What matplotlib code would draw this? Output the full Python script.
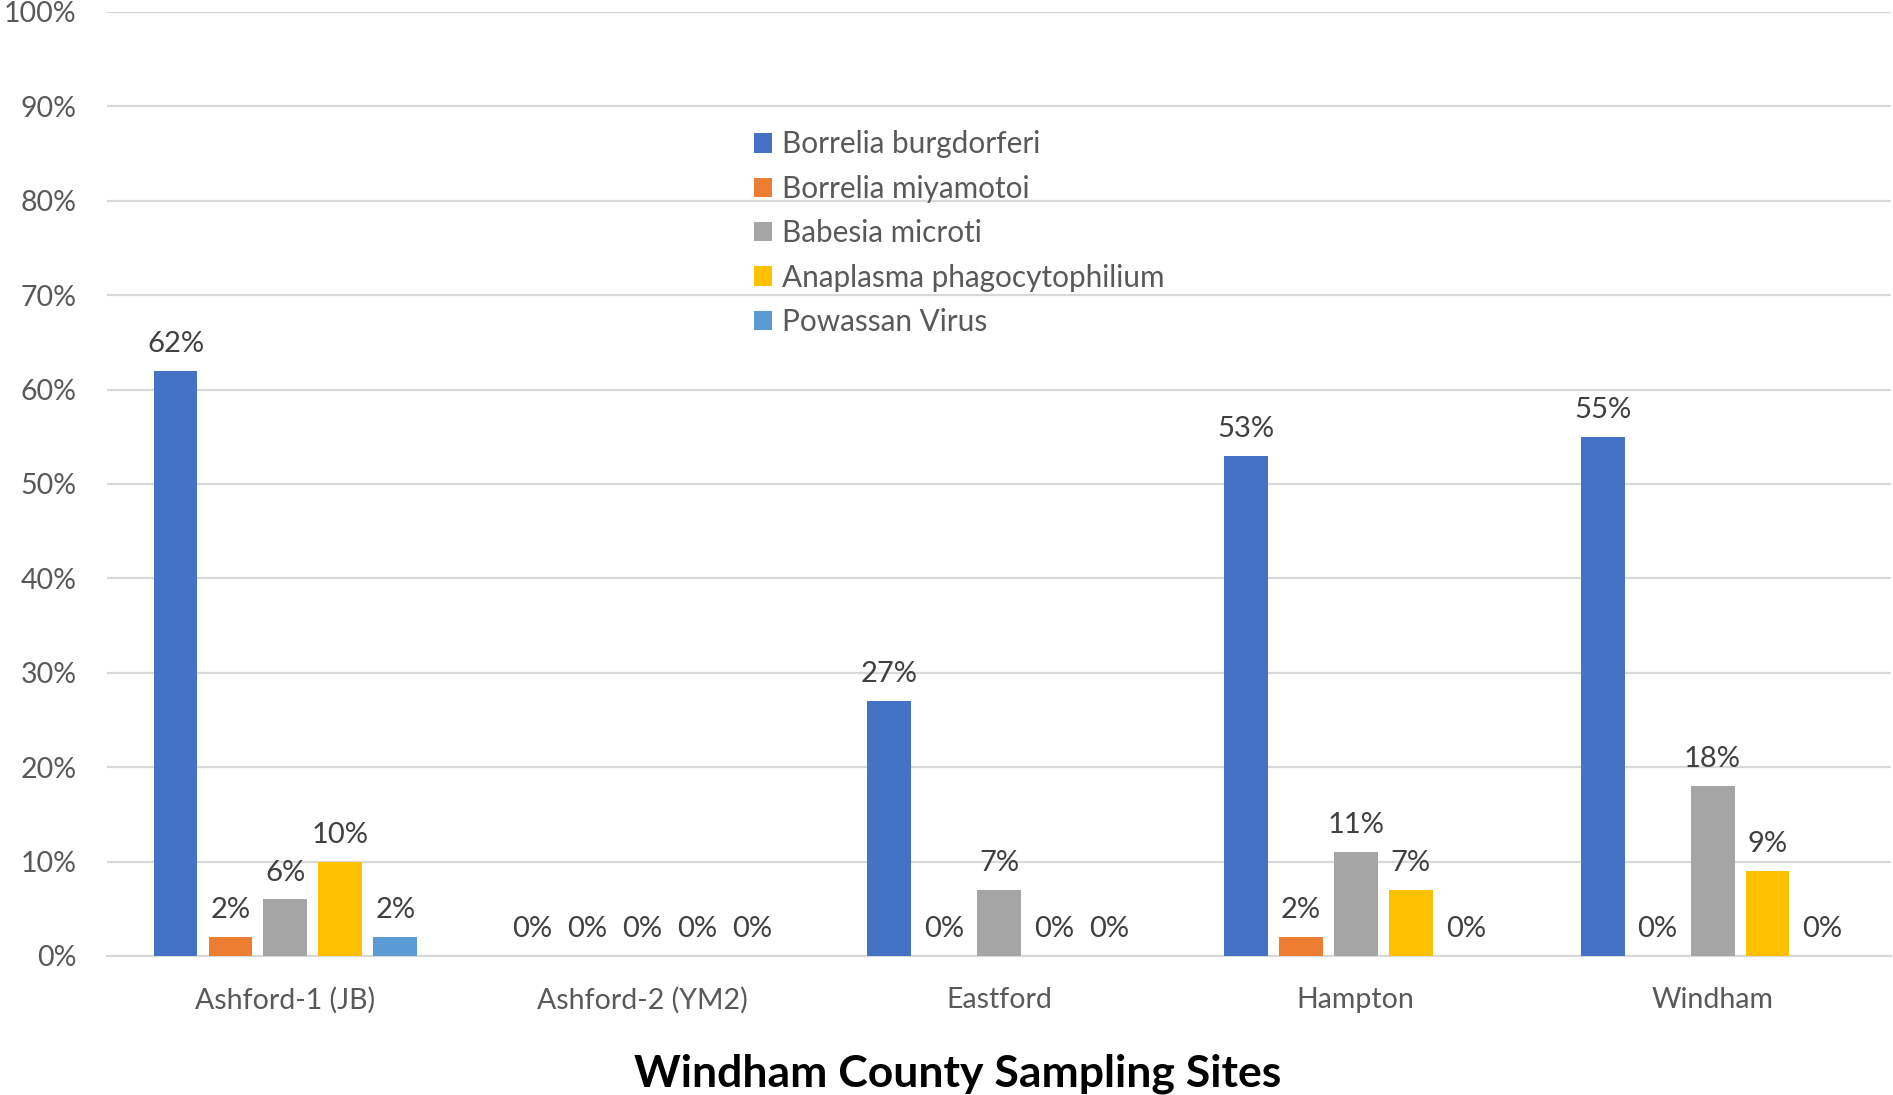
import matplotlib
matplotlib.use("Agg")
import matplotlib.pyplot as plt
import numpy as np

plt.rcParams['font.family'] = ['Lato', 'DejaVu Sans']

sites = ["Ashford-1 (JB)", "Ashford-2 (YM2)", "Eastford", "Hampton", "Windham"]
series_names = ["Borrelia burgdorferi", "Borrelia miyamotoi", "Babesia microti",
                "Anaplasma phagocytophilium", "Powassan Virus"]
borrelia_burgdorferi = [62, 0, 27, 53, 55]
borrelia_miyamotoi = [2, 0, 0, 2, 0]
babesia_microti = [6, 0, 7, 11, 18]
anaplasma = [10, 0, 0, 7, 9]
powassan = [2, 0, 0, 0, 0]
yticks = [0, 10, 20, 30, 40, 50, 60, 70, 80, 90, 100]
xlabel = "Windham County Sampling Sites"

series = [borrelia_burgdorferi, borrelia_miyamotoi, babesia_microti, anaplasma, powassan]
colors = ["#4472C4", "#ED7D31", "#A5A5A5", "#FFC000", "#5B9BD5"]

W, H = 1893, 1095
fig = plt.figure(figsize=(W / 100, H / 100), dpi=100)
ax = fig.add_axes([107 / W, 139 / H, 1784 / W, 944 / H])

x = np.arange(len(sites))
step = 0.154
bw = 0.123
for i, (vals, name, c) in enumerate(zip(series, series_names, colors)):
    pos = x + (i - 2) * step
    bars = ax.bar(pos, vals, width=bw, color=c, label=name, zorder=3)
    for xp, v in zip(pos, vals):
        ax.annotate(f"{v}%", (xp, v), xytext=(0, 13.5), textcoords="offset points",
                    ha="center", va="baseline", fontsize=21, color="#404040")

ax.set_xlim(-0.5, 4.5)
ax.set_ylim(0, 100)
ax.set_yticks(yticks)
ax.set_yticklabels([f"{t}%" for t in yticks])
ax.set_xticks(x)
ax.set_xticklabels(sites)
ax.tick_params(axis="y", length=0, pad=22, labelsize=20.5, labelcolor="#595959")
ax.tick_params(axis="x", length=0, pad=22, labelsize=20.5, labelcolor="#595959")
ax.grid(axis="y", color="#D9D9D9", linewidth=1.6, zorder=0)
for s in ["top", "right", "left"]:
    ax.spines[s].set_visible(False)
ax.spines["bottom"].set_color("#D9D9D9")
ax.spines["bottom"].set_linewidth(1.6)

leg = ax.legend(loc="upper left", bbox_to_anchor=(754 / W, 1 - 130.5 / H),
                bbox_transform=fig.transFigure, frameon=False, fontsize=21.4,
                handlelength=0.62, handleheight=0.62, handletextpad=0.33,
                labelspacing=0.55, labelcolor="#595959", borderaxespad=0,
                borderpad=0)

fig.text(958 / W, (H - 1087) / H, xlabel, ha="center", va="baseline",
         fontsize=32, fontweight="bold", color="black")

fig.savefig("out.png", dpi=100)
